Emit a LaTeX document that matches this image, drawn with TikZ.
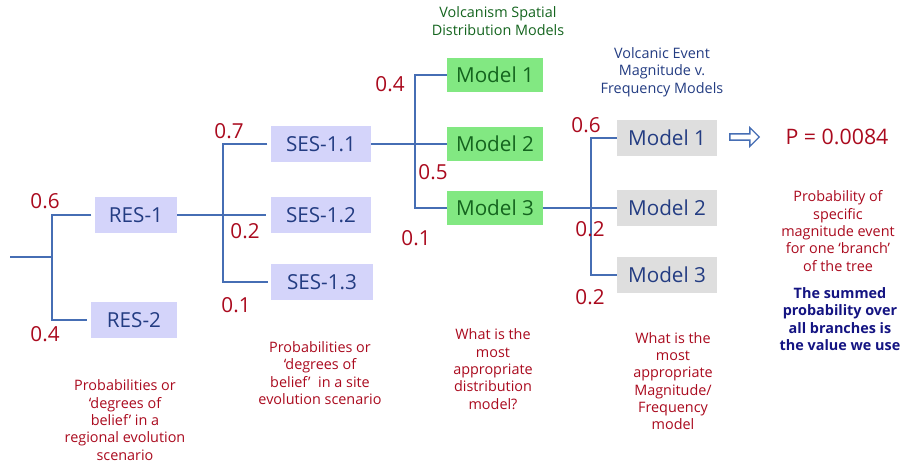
\documentclass[tikz,border=0pt]{standalone}
\usepackage{fontspec}
\setmainfont{Open Sans}
\usetikzlibrary{shapes.arrows}
\definecolor{linec}{RGB}{70,110,180}
\definecolor{lavfill}{RGB}{212,212,250}
\definecolor{navytext}{RGB}{35,60,130}
\definecolor{greenfill}{RGB}{130,232,130}
\definecolor{greentext}{RGB}{20,100,30}
\definecolor{grayfill}{RGB}{222,222,222}
\definecolor{probred}{RGB}{170,10,30}
\definecolor{darkblue}{RGB}{20,20,130}
% one drawing unit = 0.75pt
\tikzset{
  branch/.style={draw=linec, line width=0.9pt},
  box/.style={inner sep=0pt, minimum height=27pt, font=\fontsize{15.5}{18}\selectfont},
  resbox/.style={box, fill=lavfill, text=navytext},
  modbox/.style={box, fill=greenfill, text=greentext, minimum width=72pt, minimum height=25pt},
  magbox/.style={box, fill=grayfill, text=navytext, minimum width=75pt},
  prob/.style={text=probred, font=\fontsize{15.5}{18}\selectfont, inner sep=0pt},
  note/.style={align=center, inner sep=0pt, font=\fontsize{10.8}{13}\selectfont},
}
\begin{document}
\begin{tikzpicture}[x=0.75pt, y=-0.75pt]
\useasboundingbox (0,0) rectangle (905,468);

% regional scenarios
\node[resbox, minimum width=61.5pt] (res1) at (136,215) {RES-1};
\node[resbox, minimum width=64.5pt] (res2) at (134,320) {RES-2};
% site scenarios
\node[resbox, minimum width=75pt] (ses1) at (321,144) {SES-1.1};
\node[resbox, minimum width=75.5pt] (ses2) at (321,215) {SES-1.2};
\node[resbox, minimum width=76pt] (ses3) at (322,282) {SES-1.3};
% spatial distribution models
\node[modbox] (gm1) at (495,75) {Model 1};
\node[modbox] (gm2) at (495,144) {Model 2};
\node[modbox] (gm3) at (495,208) {Model 3};
% magnitude-frequency models
\node[magbox] (ym1) at (667,138) {Model 1};
\node[magbox] (ym2) at (667,208) {Model 2};
\node[magbox] (ym3) at (667,275) {Model 3};

% junction points
\coordinate (start) at (10,257);
\coordinate (j0) at (52,257);
\coordinate (j1) at (223,215);
\coordinate (j2) at (415,144);
\coordinate (j3) at (591,208);

% branches
\draw[branch] (start) -- (j0);
\draw[branch] ([xshift=-2.5pt]res1.west) -| (j0) |- ([xshift=-2.5pt]res2.west);
\draw[branch] (res1.east) -- ([xshift=-3pt]ses2.west);
\draw[branch] ([xshift=-2.5pt]ses1.west) -| (j1) |- ([xshift=-2.5pt]ses3.west);
\draw[branch] (ses1.east) -- (gm2.west);
\draw[branch] (gm1.west) -| (j2) |- (gm3.west);
\draw[branch] (gm3.east) -- (ym2.west);
\draw[branch] (ym1.west) -| (j3) |- (ym3.west);

% branch probabilities
\node[prob] (p1) at (45,201) {0.6};
\node[prob] (p2) at (45,334) {0.4};
\node[prob] (p3) at (229,131) {0.7};
\node[prob] (p4) at (245,231) {0.2};
\node[prob] (p5) at (236,305) {0.1};
\node[prob] (p6) at (390,84) {0.4};
\node[prob] (p7) at (433,172) {0.5};
\node[prob] (p8) at (416,238) {0.1};
\node[prob] (p9) at (586,125) {0.6};
\node[prob] (p10) at (590,229) {0.2};
\node[prob] (p11) at (590,297) {0.2};

% column headings
\node[note, text=greentext] (h1) at (498,21) {Volcanism Spatial\\Distribution Models};
\node[note, text=navytext] (h2) at (662,72) {Volcanic Event\\Magnitude v.\\Frequency Models};

% result
\node[single arrow, draw=linec, line width=1pt, fill=white, minimum height=22pt,
      minimum width=14pt, single arrow head extend=3pt, inner sep=1pt] (arr) at (743,137) {};
\node[prob, font=\fontsize{16}{19}\selectfont] (pval) at (837,137) {P = 0.0084};
\node[note, text=probred] (n5) at (838,231) {Probability of\\specific\\magnitude event\\for one `branch'\\of the tree};
\node[note, text=darkblue, font=\fontsize{10.8}{13}\selectfont\bfseries] (n6) at (840,319) {The summed\\probability over\\all branches is\\the value we use};

% column notes
\node[note, text=probred] (n1) at (125,420) {Probabilities or\\`degrees of\\belief' in a\\regional evolution\\scenario};
\node[note, text=probred] (n2) at (320,373) {Probabilities or\\`degrees of\\belief'\ \ in a site\\evolution scenario};
\node[note, text=probred] (n3) at (493,369) {What is the\\most\\appropriate\\distribution\\model?};
\node[note, text=probred] (n4) at (673,381) {What is the\\most\\appropriate\\Magnitude/\\Frequency\\model};
\end{tikzpicture}
\end{document}
